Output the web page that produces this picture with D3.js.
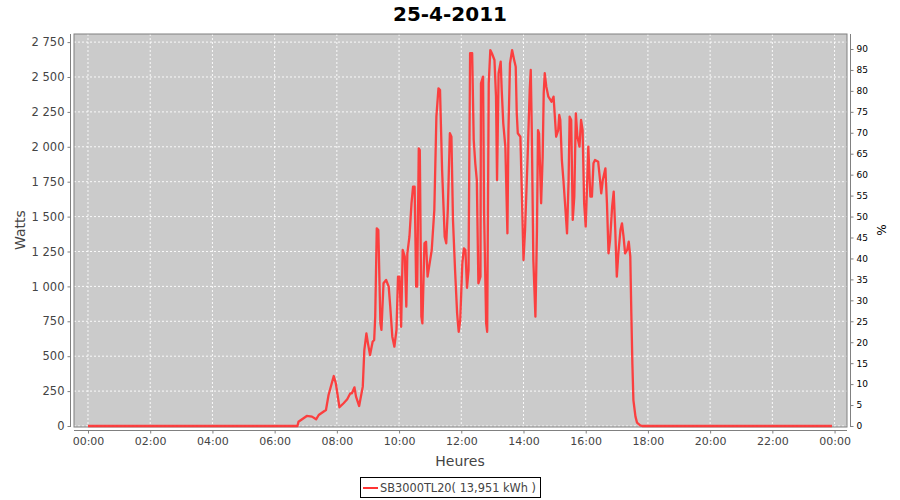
<!DOCTYPE html>
<html><head><meta charset="utf-8">
<script src="https://cdn.jsdelivr.net/npm/d3@7"></script>
<style>body{margin:0;background:#fff}svg{display:block}text{font-family:"DejaVu Sans",sans-serif}</style>
</head><body>
<svg id="c" width="900" height="500"></svg>
<script>
const title = "25-4-2011";
const seriesName = "SB3000TL20( 13,951 kWh )";
const times = ["00:00","06:44","06:46","07:02","07:12","07:20","07:25","07:34","07:39","07:44","07:54","07:58","08:05","08:13","08:20","08:26","08:29","08:34","08:37","08:43","08:50","08:53","08:57","09:00","09:04","09:09","09:12","09:14","09:17","09:20","09:24","09:26","09:30","09:35","09:40","09:43","09:47","09:51","09:55","09:58","10:01","10:04","10:07","10:11","10:14","10:16","10:20","10:24","10:27","10:30","10:33","10:35","10:38","10:40","10:43","10:45","10:49","10:52","10:55","10:59","11:03","11:08","11:12","11:16","11:19","11:23","11:28","11:31","11:34","11:38","11:41","11:44","11:48","11:52","11:55","11:58","12:02","12:05","12:08","12:11","12:14","12:17","12:21","12:24","12:27","12:30","12:33","12:37","12:38","12:42","12:44","12:48","12:50","12:53","12:56","12:59","13:04","13:07","13:09","13:12","13:16","13:18","13:21","13:25","13:29","13:31","13:34","13:38","13:42","13:45","13:47","13:49","13:54","13:57","14:00","14:03","14:08","14:12","14:14","14:16","14:19","14:23","14:26","14:28","14:30","14:34","14:37","14:39","14:41","14:44","14:48","14:54","14:58","15:03","15:07","15:09","15:11","15:14","15:17","15:21","15:24","15:27","15:29","15:32","15:35","15:38","15:41","15:44","15:48","15:51","15:54","15:57","16:00","16:03","16:05","16:09","16:12","16:15","16:18","16:24","16:27","16:30","16:33","16:38","16:41","16:44","16:47","16:51","16:54","16:57","17:00","17:03","17:07","17:10","17:13","17:16","17:20","17:23","17:26","17:28","17:30","17:32","17:36","17:39","17:45","17:49","23:55"];
const watts = [0,0,30,72,67,48,79,102,115,222,358,306,134,163,191,234,234,277,210,143,282,544,664,592,508,604,616,783,1416,1404,738,688,1022,1046,998,855,640,568,688,1070,1070,711,1261,1213,855,1237,1356,1595,1714,1714,998,998,1989,1977,783,735,1309,1320,1070,1165,1261,1547,2216,2419,2407,1834,1356,1309,1547,2097,2072,1476,1117,807,675,759,1165,1273,1261,990,1117,2670,2670,2049,1882,1762,1022,1070,2455,2502,1524,735,675,2455,2693,2670,2622,2359,1762,2527,2610,2407,2168,2001,1380,2120,2598,2693,2622,2574,2240,2097,2072,1643,1189,1404,1929,2407,2550,2120,1189,783,1404,2120,2097,1595,1929,2383,2527,2431,2359,2323,2359,2072,2120,2228,2192,1905,1762,1547,1380,1762,2216,2192,1476,1643,2240,2072,2001,2192,2120,1595,1428,1762,2001,1643,1643,1882,1905,1893,1786,1667,1762,1846,1595,1237,1332,1571,1679,1404,1070,1237,1404,1452,1356,1237,1261,1320,1213,807,449,186,67,24,5,0,0];
const wattTicks = [0,250,500,750,1000,1250,1500,1750,2000,2250,2500,2750];
const pctTicks = [0,5,10,15,20,25,30,35,40,45,50,55,60,65,70,75,80,85,90];
const hourTicks = ["00:00","02:00","04:00","06:00","08:00","10:00","12:00","14:00","16:00","18:00","20:00","22:00","00:00"];

const svg = d3.select("#c");
const L = 74, R = 847, T = 34, B = 427;
const parseT = s => { const [h,m] = s.split(":").map(Number); return new Date(2011,3,25,h,m); };
const t0 = new Date(2011,3,25,0,0), t1 = new Date(2011,3,26,0,0);
const x = d3.scaleTime().domain([d3.timeMinute.offset(t0,-26.4), d3.timeMinute.offset(t1,24.5)]).range([L,R]);
const y = d3.scaleLinear().domain([-7.2,2808]).range([B,T]);
const y2 = d3.scaleLinear().domain([-0.24,93.58]).range([B,T]);
const data = times.map((t,i)=>({t:parseT(t), v:watts[i]}));
const tickDates = hourTicks.map((s,i)=> i===hourTicks.length-1 ? t1 : parseT(s));

svg.append("text").attr("x",450).attr("y",21).attr("text-anchor","middle")
  .style("font-size","20px").style("font-weight","bold").attr("fill","#000").text(title);

svg.append("rect").attr("x",L).attr("y",T).attr("width",R-L).attr("height",B-T).attr("fill","#cbcbcb");
const g = svg.append("g");
g.selectAll(".gx").data(tickDates).join("line").attr("x1",d=>x(d)).attr("x2",d=>x(d)).attr("y1",T).attr("y2",B)
  .attr("stroke","#fff").attr("stroke-width",0.9).attr("stroke-dasharray","2,2");
g.selectAll(".gy").data(wattTicks).join("line").attr("x1",L).attr("x2",R).attr("y1",d=>y(d)).attr("y2",d=>y(d))
  .attr("stroke","#fff").attr("stroke-width",0.9).attr("stroke-dasharray","2,2");

svg.append("rect").attr("x",L).attr("y",T).attr("width",R-L).attr("height",B-T).attr("fill","none").attr("stroke","#808080").attr("stroke-width",1);

svg.append("path").datum(data).attr("fill","none").attr("stroke","#ff3333").attr("stroke-width",2.3)
  .attr("stroke-opacity",0.92).attr("stroke-linejoin","round")
  .attr("d", d3.line().x(d=>x(d.t)).y(d=>y(d.v)));

const ya = svg.append("g").attr("transform","translate(70.5,0)")
  .call(d3.axisLeft(y).tickValues(wattTicks).tickSize(3).tickPadding(3).tickFormat(d=>d3.format(",")(d).replace(/,/g," ")));
ya.select(".domain").attr("d",`M0,${T}V${B}`).attr("stroke","#808080");
ya.selectAll(".tick line").attr("stroke","#808080");
ya.selectAll(".tick text").style("font-size","11.5px").attr("fill","#444");

const ya2 = svg.append("g").attr("transform","translate(850.5,0)")
  .call(d3.axisRight(y2).tickValues(pctTicks).tickSize(3).tickPadding(3));
ya2.select(".domain").attr("d",`M0,${T}V${B}`).attr("stroke","#808080");
ya2.selectAll(".tick line").attr("stroke","#808080");
ya2.selectAll(".tick text").style("font-size","9px").attr("fill","#000");

const xa = svg.append("g").attr("transform","translate(0,430.5)")
  .call(d3.axisBottom(x).tickValues(tickDates).tickSize(3).tickPadding(4).tickFormat(d3.timeFormat("%H:%M")));
xa.select(".domain").attr("d",`M${L},0H${R}`).attr("stroke","#808080");
xa.selectAll(".tick line").attr("stroke","#808080");
xa.selectAll(".tick text").style("font-size","11px").attr("fill","#444");

svg.append("text").attr("transform","translate(25,230) rotate(-90)").attr("text-anchor","middle")
  .style("font-size","14px").attr("fill","#444").text("Watts");
svg.append("text").attr("transform","translate(886,230) rotate(-90)").attr("text-anchor","middle")
  .style("font-size","12px").attr("fill","#000").text("%");
svg.append("text").attr("x",460).attr("y",466).attr("text-anchor","middle")
  .style("font-size","14px").attr("fill","#444").text("Heures");

svg.append("rect").attr("x",360.5).attr("y",477.5).attr("width",180).attr("height",20).attr("fill","#fff").attr("stroke","#000");
svg.append("line").attr("x1",363).attr("x2",378).attr("y1",488).attr("y2",488).attr("stroke","#ff3333").attr("stroke-width",2);
svg.append("text").attr("x",380).attr("y",492).style("font-size","12px").attr("fill","#444")
  .attr("textLength",156).attr("lengthAdjust","spacingAndGlyphs").text(seriesName);
</script>
</body></html>
